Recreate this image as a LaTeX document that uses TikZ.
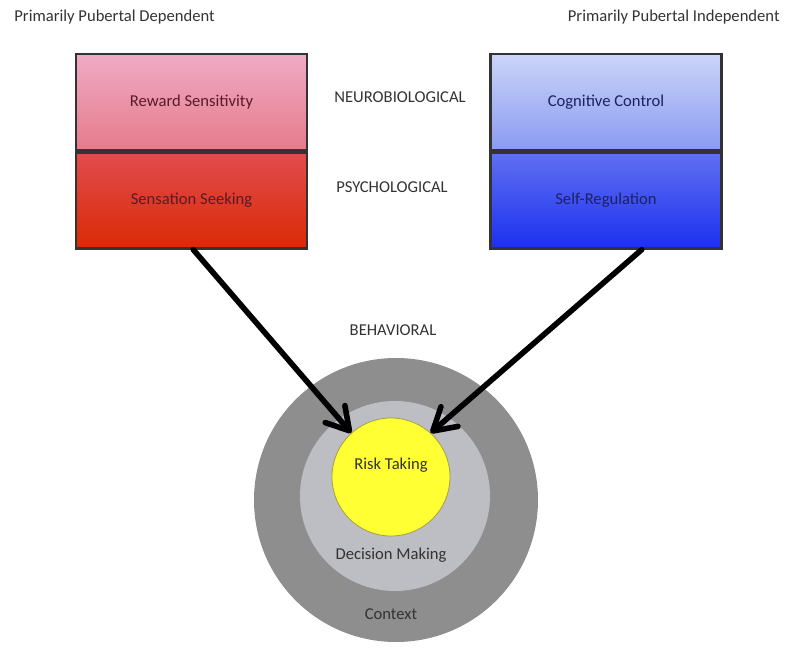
\documentclass[tikz,border=0pt]{standalone}
\usepackage{fontspec}
\setmainfont{Carlito}
\usepackage{tikz}
\usetikzlibrary{positioning,arrows.meta}
\definecolor{pinkTop}{HTML}{EFABC4}
\definecolor{pinkBot}{HTML}{E67B8C}
\definecolor{redTop}{HTML}{E14C4E}
\definecolor{redBot}{HTML}{DA2A04}
\definecolor{lblueTop}{HTML}{CBD5F8}
\definecolor{lblueBot}{HTML}{8A9AF2}
\definecolor{blueTop}{HTML}{6070F0}
\definecolor{blueBot}{HTML}{1C30F0}
\definecolor{ctxGray}{HTML}{8E8E8E}
\definecolor{decGray}{HTML}{BDBDC4}
\definecolor{riskYellow}{HTML}{FFFF33}
\definecolor{txtDark}{HTML}{333333}
\definecolor{redText}{HTML}{5A1A28}
\definecolor{blueText}{HTML}{1C2262}

\begin{document}
\begin{tikzpicture}[
    x=0.5pt, y=-0.5pt,
    font=\fontsize{8.3}{10}\selectfont,
    half/.style={draw=txtDark, line width=1.2pt, minimum width=115.5pt, minimum height=48pt, align=center},
    ring/.style={circle, inner sep=0pt},
    txt/.style={text=txtDark, inner sep=1pt},
    arr/.style={-{Straight Barb[length=11pt, width=13pt, round]}, line width=2.8pt, line cap=round}
]
\useasboundingbox (0,0) rectangle (800,663);

% headers
\node[txt, anchor=west] (dep) at (12,17) {Primarily Pubertal Dependent};
\node[txt, anchor=east] (indep) at (782,17) {Primarily Pubertal Independent};

% left box
\node[half, top color=pinkTop, bottom color=pinkBot, text=redText] (reward) at (191.5,102) {Reward Sensitivity};
\node[half, top color=redTop, bottom color=redBot, text=redText, below=0pt of reward] (seek) {Sensation Seeking};

% right box
\node[half, top color=lblueTop, bottom color=lblueBot, text=blueText] (cogctl) at (606,102) {Cognitive Control};
\node[half, top color=blueTop, bottom color=blueBot, text=blueText, below=0pt of cogctl] (selfreg) {Self-Regulation};

% level labels
\node[txt] (neuro) at (400,97) {NEUROBIOLOGICAL};
\node[txt] (psych) at (392,187) {PSYCHOLOGICAL};
\node[txt] (behav) at (393,330) {BEHAVIORAL};

% nested circles
\node[ring, fill=ctxGray, minimum size=142pt] (context) at (396,500) {};
\node[ring, fill=decGray, minimum size=95pt] (decision) at (395,496) {};
\node[ring, fill=riskYellow, draw=yellow!60!black, line width=0.4pt, minimum size=59pt] (risk) at (391,477) {};
\node[txt] (risklbl) at (391,465) {Risk Taking};
\node[txt] (declbl) at (391,555) {Decision Making};
\node[txt] (ctxlbl) at (391,614) {Context};

\draw[arr] (seek.-88) -- (risk.132);
\draw[arr] (selfreg.-54) -- (risk.48);
\end{tikzpicture}
\end{document}
